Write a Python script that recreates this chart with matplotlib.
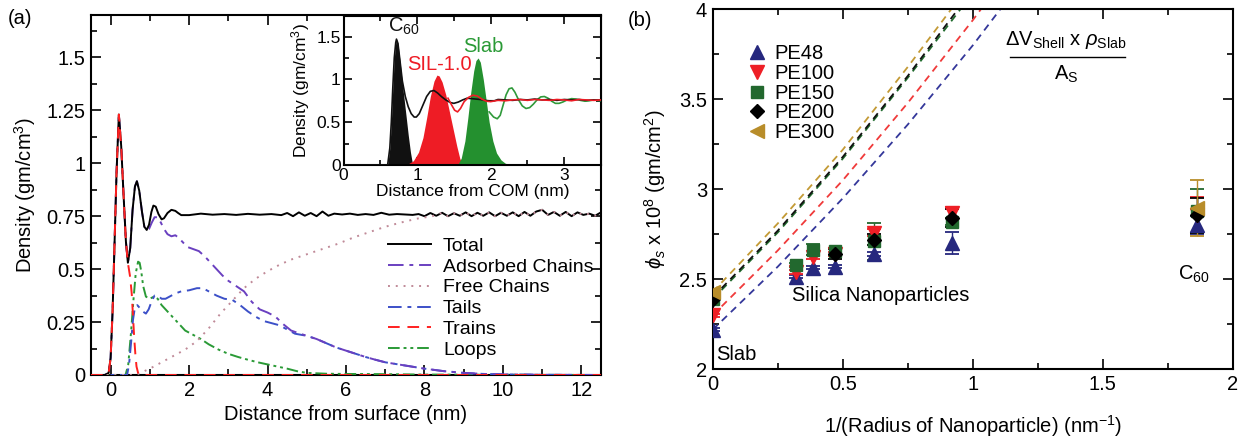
import matplotlib
matplotlib.use("Agg")
import matplotlib.pyplot as plt
from matplotlib.ticker import MultipleLocator
from matplotlib.lines import Line2D

plt.rcParams['font.family'] = ['Liberation Sans', 'DejaVu Sans']
plt.rcParams['mathtext.fontset'] = 'custom'
plt.rcParams['mathtext.rm'] = 'Liberation Sans'
plt.rcParams['mathtext.it'] = 'Liberation Sans:italic'
plt.rcParams['mathtext.bf'] = 'Liberation Sans:bold'

# ---------------- panel (a): density profiles ----------------
total_x = [-0.5, -0.15, -0.05, 0.0, 0.05, 0.1, 0.15, 0.21, 0.27, 0.33, 0.39, 0.44,
           0.5, 0.56, 0.62, 0.67, 0.73, 0.8, 0.86, 0.92, 0.98, 1.04, 1.09, 1.15, 1.22,
           1.3, 1.36, 1.45, 1.55, 1.65, 1.72, 1.8, 1.9,
           2.0, 2.3, 2.6, 2.9, 3.2, 3.5, 3.8, 4.1,
           4.35, 4.5, 4.65, 4.8, 4.95, 5.1, 5.25, 5.4, 5.55, 5.7,
           5.9, 6.1, 6.3, 6.5, 6.7, 6.9, 7.1, 7.3, 7.5, 7.7,
           7.85, 8.0, 8.15, 8.3, 8.45, 8.6, 8.75, 8.9, 9.05, 9.2, 9.35, 9.5, 9.65,
           9.8, 9.95, 10.1, 10.25, 10.4, 10.55, 10.7, 10.85, 11.0, 11.15, 11.3,
           11.45, 11.6, 11.75, 11.9, 12.05, 12.2, 12.35, 12.5]
total_y = [0.0, 0.0, 0.01, 0.08, 0.3, 0.62, 0.95, 1.23, 1.08, 0.85, 0.63, 0.53,
           0.6, 0.78, 0.89, 0.915, 0.87, 0.77, 0.70, 0.685, 0.71, 0.77, 0.80, 0.795, 0.76,
           0.735, 0.74, 0.765, 0.78, 0.775, 0.765, 0.755, 0.755,
           0.755, 0.762, 0.757, 0.760, 0.756, 0.761, 0.757, 0.760,
           0.755, 0.765, 0.750, 0.768, 0.752, 0.765, 0.750, 0.772, 0.752, 0.762,
           0.758, 0.762, 0.756, 0.760, 0.756, 0.766, 0.757, 0.760, 0.758, 0.756,
           0.760, 0.750, 0.765, 0.752, 0.766, 0.750, 0.764, 0.752, 0.768, 0.750, 0.766,
           0.752, 0.768,
           0.750, 0.766, 0.752, 0.768, 0.750, 0.770, 0.752, 0.772, 0.780, 0.756, 0.770,
           0.752, 0.770, 0.750, 0.768, 0.756, 0.762, 0.752, 0.768]

ads_x = [0.98, 1.05, 1.12, 1.2, 1.28, 1.36, 1.45, 1.55, 1.65, 1.75, 1.85, 1.95, 2.1,
         2.25, 2.4, 2.55, 2.7, 2.85, 3.0, 3.2, 3.4, 3.6, 3.8, 4.0, 4.2, 4.4, 4.6, 4.8,
         5.0, 5.25, 5.5, 5.75, 6.0, 6.25, 6.5, 6.75, 7.0, 7.5, 8.0, 8.5, 9.0, 9.5,
         10.0, 11.0, 12.5]
ads_y = [0.69, 0.72, 0.745, 0.745, 0.72, 0.69, 0.665, 0.655, 0.66, 0.645, 0.625, 0.605,
         0.595, 0.585, 0.56, 0.53, 0.50, 0.47, 0.445, 0.42, 0.395, 0.345, 0.31, 0.295,
         0.276, 0.24, 0.21, 0.197, 0.185, 0.17, 0.15, 0.13, 0.115, 0.10, 0.085, 0.072,
         0.06, 0.045, 0.03, 0.018, 0.01, 0.005, 0.003, 0.001, 0.0]

free_x = [-0.5, 0.6, 0.7, 1.0, 1.3, 1.6, 1.9, 2.2, 2.5, 2.8, 3.1, 3.4, 3.7, 4.0, 4.3,
          4.6, 5.0, 5.4, 5.8, 6.2, 6.6, 7.0, 7.4, 7.8, 8.2]
free_y = [0.0, 0.0, 0.005, 0.03, 0.06, 0.09, 0.12, 0.16, 0.22, 0.29, 0.35, 0.41,
          0.455, 0.49, 0.52, 0.545, 0.57, 0.595, 0.62, 0.65, 0.675, 0.70, 0.72,
          0.738, 0.75]

tails_x = [-0.5, 0.42, 0.47, 0.52, 0.57, 0.62, 0.68, 0.75, 0.82, 0.9, 0.97, 1.05, 1.12,
           1.2, 1.3, 1.4, 1.5, 1.65, 1.8, 2.0, 2.2, 2.35, 2.5, 2.7, 2.9, 3.1, 3.3, 3.5,
           3.7, 3.9, 4.1, 4.3, 4.5, 4.7, 4.85]
tails_y = [0.0, 0.0, 0.05, 0.15, 0.26, 0.32, 0.33, 0.315, 0.30, 0.29, 0.31, 0.35,
           0.375, 0.375, 0.36, 0.36, 0.37, 0.385, 0.395, 0.40, 0.41, 0.41, 0.395, 0.375,
           0.36, 0.355, 0.33, 0.30, 0.275, 0.255, 0.245, 0.235, 0.215, 0.195, 0.19]

trains_x = [0.5, 0.54, 0.57, 0.6, 0.63, 0.66, 0.7, 0.75, 12.5]
trains_y = [0.46, 0.38, 0.28, 0.18, 0.10, 0.04, 0.01, 0.0, 0.0]

loops_x = [-0.5, 0.38, 0.45, 0.52, 0.58, 0.64, 0.7, 0.74, 0.78, 0.83, 0.9, 1.0, 1.1,
           1.2, 1.3, 1.45, 1.6, 1.75, 1.9, 2.1, 2.3, 2.5, 2.75, 3.0, 3.25, 3.5, 3.75,
           4.0, 4.25, 4.5, 4.75, 5.0, 5.5, 6.0, 7.0, 8.0, 12.5]
loops_y = [0.0, 0.0, 0.05, 0.2, 0.35, 0.48, 0.535, 0.53, 0.49, 0.42, 0.37, 0.36,
           0.37, 0.36, 0.33, 0.30, 0.27, 0.24, 0.21, 0.19, 0.17, 0.145, 0.12, 0.10,
           0.085, 0.072, 0.06, 0.05, 0.04, 0.03, 0.018, 0.01, 0.006, 0.005, 0.004,
           0.002, 0.0]

# ---------------- inset: profiles around particle centre ----------------
c60_fill_x = [0.6, 0.63, 0.65, 0.67, 0.69, 0.71, 0.72, 0.74, 0.77, 0.8, 0.84, 0.88, 0.91, 0.94]
c60_fill_y = [0.0, 0.2, 0.5, 0.9, 1.25, 1.43, 1.47, 1.42, 1.2, 0.95, 0.65, 0.35, 0.15, 0.0]
sil_fill_x = [0.85, 0.95, 1.02, 1.08, 1.13, 1.18, 1.23, 1.27, 1.3, 1.34, 1.39, 1.44,
              1.49, 1.54, 1.58, 1.62]
sil_fill_y = [0.0, 0.05, 0.15, 0.32, 0.55, 0.8, 0.98, 1.05, 1.04, 0.97, 0.82, 0.62,
              0.42, 0.22, 0.08, 0.0]
slab_fill_x = [1.55, 1.6, 1.65, 1.69, 1.73, 1.77, 1.8, 1.83, 1.86, 1.9, 1.94, 1.98,
               2.03, 2.08, 2.14, 2.2, 2.3]
slab_fill_y = [0.0, 0.08, 0.28, 0.55, 0.85, 1.1, 1.22, 1.25, 1.2, 1.0, 0.75, 0.5,
               0.28, 0.14, 0.06, 0.02, 0.0]

c60_line_x = [0.0, 0.6, 0.63, 0.65, 0.67, 0.69, 0.71, 0.72, 0.74, 0.77, 0.8, 0.84,
              0.88, 0.92, 0.96, 0.99, 1.03, 1.08, 1.13, 1.18, 1.23, 1.28, 1.33, 1.39,
              1.45, 1.5, 1.56, 1.62, 1.68, 1.74, 1.8, 1.86, 1.92, 1.98, 2.05, 2.1, 2.2,
              2.3, 2.4, 2.5, 2.6, 2.7, 2.8, 2.9, 3.0, 3.1, 3.2, 3.3, 3.4, 3.5]
c60_line_y = [0.0, 0.0, 0.2, 0.5, 0.9, 1.25, 1.43, 1.47, 1.42, 1.2, 0.98, 0.8, 0.68,
              0.6, 0.56, 0.56, 0.6, 0.7, 0.8, 0.86, 0.87, 0.84, 0.8, 0.76, 0.73, 0.72,
              0.735, 0.76, 0.78, 0.775, 0.77, 0.765, 0.755, 0.75, 0.75, 0.765, 0.76,
              0.755, 0.765, 0.76, 0.77, 0.76, 0.765, 0.755, 0.765, 0.76, 0.765, 0.755,
              0.76, 0.76]
sil_line_x = [1.42, 1.47, 1.51, 1.55, 1.59, 1.64, 1.7, 1.76, 1.82, 1.88, 1.94, 2.0,
              2.1, 2.2, 2.3, 2.4, 2.5, 2.6, 2.7, 2.8, 2.9, 3.0, 3.1, 3.2, 3.3, 3.4, 3.5]
sil_line_y = [0.78, 0.7, 0.64, 0.62, 0.66, 0.74, 0.79, 0.815, 0.805, 0.77, 0.745, 0.74,
              0.755, 0.75, 0.76, 0.765, 0.755, 0.765, 0.76, 0.755, 0.765, 0.76, 0.75,
              0.765, 0.76, 0.755, 0.76]
slab_line_x = [1.98, 2.04, 2.09, 2.13, 2.17, 2.21, 2.25, 2.29, 2.33, 2.38, 2.43, 2.48,
               2.53, 2.58, 2.63, 2.68, 2.73, 2.78, 2.83, 2.88, 2.93, 2.98, 3.04, 3.1,
               3.16, 3.22, 3.28, 3.34, 3.4, 3.45, 3.5]
slab_line_y = [0.62, 0.56, 0.54, 0.58, 0.7, 0.82, 0.89, 0.90, 0.85, 0.76, 0.69, 0.66,
               0.67, 0.71, 0.76, 0.795, 0.80, 0.78, 0.745, 0.72, 0.72, 0.735, 0.76,
               0.775, 0.77, 0.755, 0.745, 0.75, 0.76, 0.755, 0.75]

# ---------------- panel (b): surface density vs curvature ----------------
pe48_x = [0.0, 0.32, 0.385, 0.47, 0.62, 0.92, 1.86]
pe48_y = [2.22, 2.515, 2.565, 2.57, 2.64, 2.70, 2.80]
pe48_err = [0.01, 0.01, 0.01, 0.01, 0.01, 0.06, 0.05]
pe100_x = [0.0, 0.32, 0.385, 0.47, 0.62, 0.92, 1.86]
pe100_y = [2.30, 2.54, 2.625, 2.64, 2.76, 2.87, 2.86]
pe100_err = [0.01, 0.01, 0.01, 0.01, 0.02, 0.03, 0.10]
pe150_x = [0.0, 0.32, 0.385, 0.47, 0.62, 0.92, 1.86]
pe150_y = [2.39, 2.58, 2.665, 2.655, 2.71, 2.82, 2.88]
pe150_err = [0.01, 0.01, 0.03, 0.02, 0.10, 0.02, 0.12]
pe200_x = [0.0, 0.47, 0.62, 0.92, 1.86]
pe200_y = [2.39, 2.64, 2.72, 2.84, 2.855]
pe200_err = [0.01, 0.03, 0.03, 0.05, 0.095]
pe300_x = [0.0, 1.86]
pe300_y = [2.43, 2.895]
pe300_err = [0.01, 0.155]

shell_x = [0.0, 0.25, 0.5, 0.75, 1.0, 1.2]
shell_pe48 = [2.22, 2.57, 2.95, 3.36, 3.80, 4.18]
shell_pe100 = [2.30, 2.66, 3.05, 3.48, 3.94, 4.33]
shell_pe150 = [2.39, 2.76, 3.17, 3.62, 4.09, 4.50]
shell_pe200 = [2.40, 2.77, 3.18, 3.63, 4.11, 4.52]
shell_pe300 = [2.43, 2.81, 3.22, 3.68, 4.16, 4.58]

C_BLACK = '#000000'
C_PURPLE = '#6a40c0'
C_PINK = '#c08a98'
C_BLUE = '#3c50c8'
C_RED = '#ff2020'
C_GREEN = '#2a9a36'
C_NAVY = '#26287e'
C_PRED = '#ee1f26'
C_DGREEN = '#22682e'
C_GOLD = '#b88d2a'

FS = 14.5      # main text size
FS_IN = 12.5   # inset text size


def style_axes(ax, labelsize):
    ax.tick_params(which='both', direction='in', top=True, right=True,
                   labelsize=labelsize, width=1.2)
    ax.tick_params(which='major', length=7, pad=4)
    ax.tick_params(which='minor', length=4)
    for s in ax.spines.values():
        s.set_linewidth(1.5)


fig = plt.figure(figsize=(12.4, 4.37), dpi=100)

# ---- panel (a)
axa = fig.add_axes([91 / 1240, 1 - 375 / 437, 510 / 1240, 360 / 437])
lw = 1.4
h_total, = axa.plot(total_x, total_y, color=C_BLACK, lw=lw, label='Total', zorder=6)
ads_full_x = total_x[:20] + ads_x
ads_full_y = total_y[:20] + ads_y
h_ads, = axa.plot(ads_full_x, ads_full_y, color=C_PURPLE, lw=lw,
                  dashes=(8, 3, 2, 3), label='Adsorbed Chains', zorder=5)
free_full_x = free_x + [x for x in total_x if x >= 8.4]
free_full_y = free_y + [y for x, y in zip(total_x, total_y) if x >= 8.4]
h_free, = axa.plot(free_full_x, free_full_y, color=C_PINK, lw=lw,
                   dashes=(1, 3), label='Free Chains', zorder=7)
tails_full_x = tails_x + [x for x in ads_x if x >= 5.0]
tails_full_y = tails_y + [y for x, y in zip(ads_x, ads_y) if x >= 5.0]
h_tails, = axa.plot(tails_full_x, tails_full_y, color=C_BLUE, lw=lw,
                    dashes=(7, 3, 2, 3), label='Tails', zorder=4)
trains_full_x = total_x[:12] + trains_x
trains_full_y = total_y[:12] + trains_y
h_trains, = axa.plot(trains_full_x, trains_full_y, color=C_RED, lw=lw,
                     dashes=(6, 4), label='Trains', zorder=8)
h_loops, = axa.plot(loops_x, loops_y, color=C_GREEN, lw=lw,
                    dashes=(6, 2, 1.5, 2, 1.5, 2), label='Loops', zorder=3)

axa.set_xlim(-0.5, 12.5)
axa.set_ylim(0, 1.7)
axa.xaxis.set_major_locator(MultipleLocator(2))
axa.xaxis.set_minor_locator(MultipleLocator(1))
axa.yaxis.set_major_locator(MultipleLocator(0.25))
axa.yaxis.set_minor_locator(MultipleLocator(0.125))
axa.set_yticks([0, 0.25, 0.5, 0.75, 1.0, 1.25, 1.5])
axa.set_yticklabels(['0', '0.25', '0.5', '0.75', '1', '1.25', '1.5'])
style_axes(axa, FS)
axa.set_xlabel('Distance from surface (nm)', fontsize=FS, labelpad=4)
axa.set_ylabel('Density (gm/cm$^3$)', fontsize=FS, labelpad=6)
axa.legend(handles=[h_total, h_ads, h_free, h_tails, h_trains, h_loops],
           loc='upper left', bbox_to_anchor=(0.568, 0.405), frameon=False,
           fontsize=FS - 0.5, handlelength=2.2, handletextpad=0.6, labelspacing=0.17,
           borderaxespad=0)
fig.text(8 / 1240, 1 - 18 / 437, '(a)', fontsize=FS, va='center', ha='left')

# ---- inset
axi = fig.add_axes([343.5 / 1240, 1 - 165 / 437, 257.5 / 1240, 149 / 437])
axi.fill_between(c60_fill_x, c60_fill_y, color='#111111', lw=0, zorder=2)
axi.fill_between(sil_fill_x, sil_fill_y, color='#ee1c25', lw=0, zorder=2)
axi.fill_between(slab_fill_x, slab_fill_y, color='#24902f', lw=0, zorder=2)
axi.plot(slab_line_x, slab_line_y, color='#2f9a3a', lw=1.2, zorder=3)
axi.plot(c60_line_x, c60_line_y, color='#111111', lw=1.2, zorder=4)
axi.plot(sil_line_x, sil_line_y, color='#ee1c25', lw=1.2, zorder=5)
axi.set_xlim(0, 3.5)
axi.set_ylim(0, 1.74)
axi.xaxis.set_major_locator(MultipleLocator(1))
axi.xaxis.set_minor_locator(MultipleLocator(0.5))
axi.yaxis.set_major_locator(MultipleLocator(0.5))
axi.yaxis.set_minor_locator(MultipleLocator(0.25))
axi.set_yticks([0, 0.5, 1.0, 1.5])
axi.set_yticklabels(['0', '0.5', '1', '1.5'])
style_axes(axi, FS_IN)
axi.tick_params(which='major', length=6, pad=2)
axi.tick_params(which='minor', length=3.5)
axi.set_xlabel('Distance from COM (nm)', fontsize=FS_IN, labelpad=1)
axi.set_ylabel('Density (gm/cm$^3$)', fontsize=FS_IN, labelpad=3)
axi.text(0.6, 1.5, 'C$_{60}$', fontsize=FS, color='#111111', ha='left', va='bottom')
axi.text(0.86, 1.06, 'SIL-1.0', fontsize=FS, color='#ee1c25', ha='left', va='bottom')
axi.text(1.62, 1.27, 'Slab', fontsize=FS, color='#2a9a36', ha='left', va='bottom')

# ---- panel (b)
axb = fig.add_axes([712.7 / 1240, 1 - 369.3 / 437, 520.3 / 1240, 360 / 437])
for sy, col in [(shell_pe48, '#34379a'), (shell_pe100, '#f03a3a'),
                (shell_pe150, '#1f6a2c'), (shell_pe200, '#111111'),
                (shell_pe300, '#c39a35')]:
    axb.plot(shell_x, sy, color=col, lw=1.3, dashes=(4, 3), zorder=2)

ekw = dict(elinewidth=1.0, capsize=5, capthick=1.3, ls='none', zorder=4)
axb.errorbar(pe48_x, pe48_y, yerr=pe48_err, color=C_NAVY, marker='^', ms=10,
             label='PE48', **ekw)
axb.errorbar(pe100_x, pe100_y, yerr=pe100_err, color=C_PRED, marker='v', ms=10,
             label='PE100', **ekw)
axb.errorbar(pe150_x, pe150_y, yerr=pe150_err, color=C_DGREEN, marker='s', ms=8.5,
             label='PE150', **ekw)
axb.errorbar(pe200_x, pe200_y, yerr=pe200_err, color=C_BLACK, marker='D', ms=7.5,
             label='PE200', **ekw)
axb.errorbar(pe300_x, pe300_y, yerr=pe300_err, color=C_GOLD, marker='<', ms=10,
             label='PE300', **ekw)

axb.set_xlim(0, 2)
axb.set_ylim(2, 4)
axb.xaxis.set_major_locator(MultipleLocator(0.5))
axb.xaxis.set_minor_locator(MultipleLocator(0.25))
axb.yaxis.set_major_locator(MultipleLocator(0.5))
axb.yaxis.set_minor_locator(MultipleLocator(0.25))
axb.set_xticks([0, 0.5, 1.0, 1.5, 2.0])
axb.set_xticklabels(['0', '0.5', '1', '1.5', '2'])
axb.set_yticks([2, 2.5, 3, 3.5, 4])
axb.set_yticklabels(['2', '2.5', '3', '3.5', '4'])
style_axes(axb, FS)
axb.set_xlabel('1/(Radius of Nanoparticle) (nm$^{-1}$)', fontsize=FS, labelpad=14)
axb.set_ylabel(r'$\phi_s$ x 10$^8$ (gm/cm$^2$)', fontsize=FS, labelpad=8)

leg_handles = [Line2D([], [], color=c, marker=m, ms=s, ls='none')
               for c, m, s in [(C_NAVY, '^', 10), (C_PRED, 'v', 10), (C_DGREEN, 's', 8.5),
                               (C_BLACK, 'D', 7.5), (C_GOLD, '<', 10)]]
axb.legend(leg_handles, ['PE48', 'PE100', 'PE150', 'PE200', 'PE300'],
           loc='upper left', bbox_to_anchor=(0.05, 0.925), frameon=False,
           fontsize=FS, handlelength=1.0, handletextpad=0.35, labelspacing=0.03,
           borderaxespad=0)

axb.text(0.015, 2.08, 'Slab', fontsize=FS, ha='left', va='center')
axb.text(0.303, 2.41, 'Silica Nanoparticles', fontsize=FS, ha='left', va='center')
axb.text(1.79, 2.53, 'C$_{60}$', fontsize=FS, ha='left', va='center')

fig.text(1066 / 1240, 1 - 40 / 437, r'$\Delta$V$_{\rm Shell}$ x $\rho_{\rm Slab}$',
         fontsize=FS, ha='center', va='center')
fig.add_artist(Line2D([1010 / 1240, 1125 / 1240], [1 - 57 / 437, 1 - 57 / 437],
                      color='black', lw=1.0, transform=fig.transFigure))
fig.text(1066 / 1240, 1 - 74 / 437, 'A$_{\\rm S}$', fontsize=FS, ha='center',
         va='center')
fig.text(628 / 1240, 1 - 20 / 437, '(b)', fontsize=FS, va='center', ha='left')

fig.savefig('out.png', dpi=100)
